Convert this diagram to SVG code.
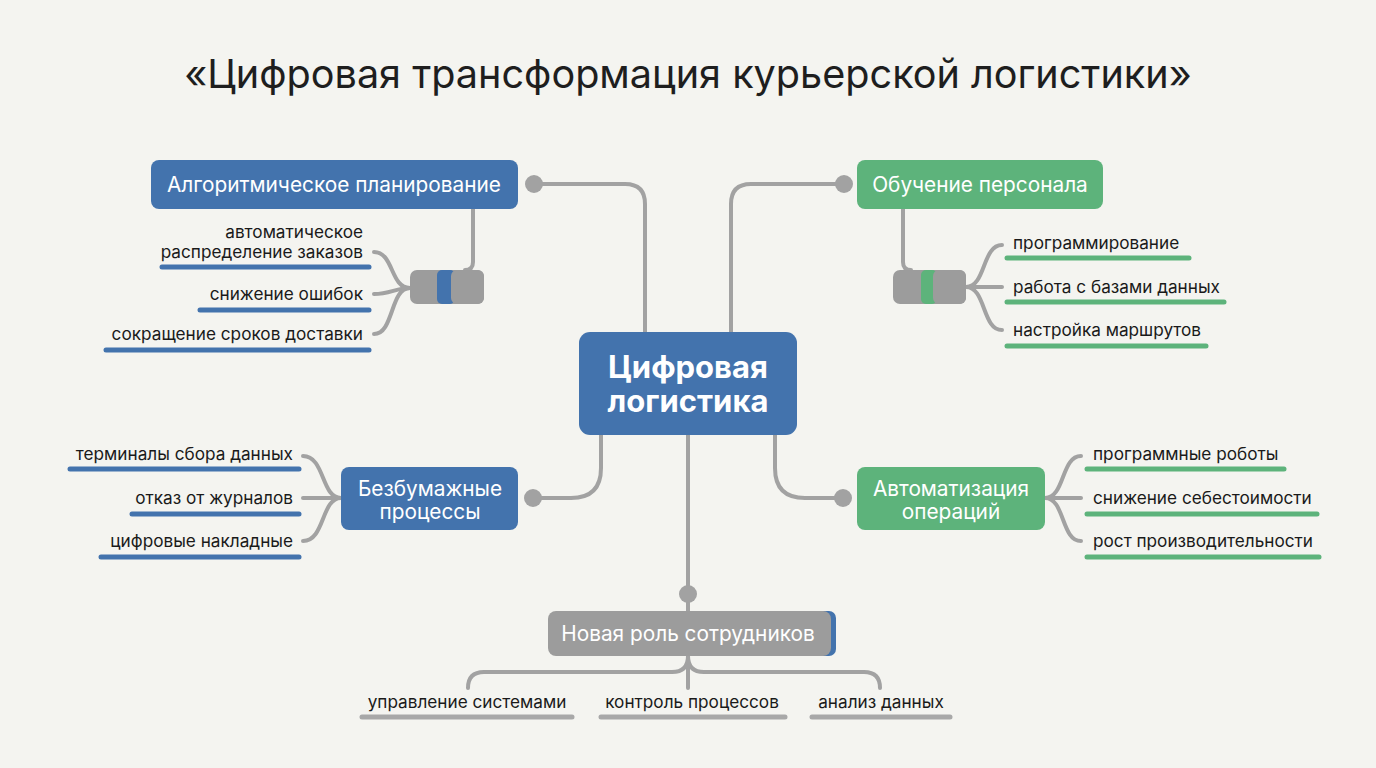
<svg xmlns="http://www.w3.org/2000/svg" width="1376" height="768" viewBox="0 0 1376 768">
<defs>
<style>
.bg{fill:#f4f4f0}
.title{font-family:Inter,"Noto Sans",sans-serif;font-size:39.6px;fill:#1e1e1e;text-anchor:middle}
.blue{fill:#4373ad}
.green{fill:#5db37b}
.gray{fill:#9c9c9c}
.nt{font-family:Inter,"Noto Sans",sans-serif;font-size:20.8px;fill:#ffffff;text-anchor:middle}
.ct{font-family:Inter,"Noto Sans",sans-serif;font-size:31px;font-weight:700;fill:#ffffff;text-anchor:middle}
.it{font-family:Inter,"Noto Sans",sans-serif;font-size:17.2px;fill:#1a1a1a}
.r{text-anchor:end}
.m{text-anchor:middle}
.con{fill:none;stroke:#a2a2a2;stroke-width:4;stroke-linecap:round}
.dot{fill:#a2a2a2}
.ub{stroke:#4373ad;stroke-width:5;stroke-linecap:round}
.ug{stroke:#5db37b;stroke-width:5;stroke-linecap:round}
.ux{stroke:#a8a8a8;stroke-width:5;stroke-linecap:round}
</style>
</defs>
<rect class="bg" x="0" y="0" width="1376" height="768"/>
<text class="title" x="688" y="88">«Цифровая трансформация курьерской логистики»</text>

<g id="connectors">
<path class="con" d="M645,332 V204 Q645,184 625,184 H534"/>
<path class="con" d="M731,332 V204 Q731,184 751,184 H844"/>
<path class="con" d="M601,435 V468 Q601,498 571,498 H533"/>
<path class="con" d="M775,435 V468 Q775,498 805,498 H843"/>
<path class="con" d="M688,435 V611"/>
<circle class="dot" cx="534" cy="184" r="9"/>
<circle class="dot" cx="844" cy="184" r="9"/>
<circle class="dot" cx="533" cy="498" r="9"/>
<circle class="dot" cx="843" cy="498" r="9"/>
<circle class="dot" cx="688" cy="594" r="9"/>
<path class="con" d="M473,209 V262 Q473,270 465,270"/>
<path class="con" d="M374,252 C394,252 390,288 410,288"/>
<path class="con" d="M374,294 C390,294 396,288 410,288"/>
<path class="con" d="M374,334 C394,334 390,288 410,288"/>
<path class="con" d="M903,209 V262 Q903,270 911,270"/>
<path class="con" d="M966,287 C986,287 982,245 1002,245"/>
<path class="con" d="M966,287 H1002"/>
<path class="con" d="M966,287 C986,287 982,330 1002,330"/>
<path class="con" d="M341,498 C321,498 325,456 303,456"/>
<path class="con" d="M341,498 H303"/>
<path class="con" d="M341,498 C321,498 325,541 303,541"/>
<path class="con" d="M1045,498 C1065,498 1061,456 1081,456"/>
<path class="con" d="M1045,498 H1081"/>
<path class="con" d="M1045,498 C1065,498 1061,541 1081,541"/>
<path class="con" d="M688,656 V688"/>
<path class="con" d="M688,656 Q688,672 672,672 H484 Q468,672 468,688"/>
<path class="con" d="M688,656 Q688,672 704,672 H864 Q880,672 880,688"/>
</g>

<g id="center">
<rect class="blue" x="579" y="332" width="218" height="103" rx="11"/>
<text class="ct" x="688" y="378">Цифровая</text>
<text class="ct" x="688" y="412">логистика</text>
</g>

<g id="algo">
<rect class="blue" x="151" y="160" width="367" height="49" rx="8"/>
<text class="nt" x="334" y="192">Алгоритмическое планирование</text>
<rect class="gray" x="410" y="270" width="74" height="34" rx="7"/>
<rect class="blue" x="437" y="270" width="18" height="34" rx="5"/>
<rect class="gray" x="451" y="270" width="33" height="34" rx="6"/>
<text class="it r" x="363" y="238">автоматическое</text>
<text class="it r" x="363" y="258">распределение заказов</text>
<line class="ub" x1="162" y1="267" x2="369" y2="267"/>
<text class="it r" x="363" y="300">снижение ошибок</text>
<line class="ub" x1="200" y1="310" x2="369" y2="310"/>
<text class="it r" x="363" y="340">сокращение сроков доставки</text>
<line class="ub" x1="106" y1="350" x2="369" y2="350"/>
</g>

<g id="training">
<rect class="green" x="857" y="160" width="246" height="49" rx="8"/>
<text class="nt" x="980" y="192">Обучение персонала</text>
<rect class="gray" x="893" y="270" width="73" height="34" rx="7"/>
<rect class="green" x="921" y="270" width="16" height="34" rx="5"/>
<rect class="gray" x="933" y="270" width="33" height="34" rx="6"/>
<text class="it" x="1013" y="249">программирование</text>
<line class="ug" x1="1007" y1="258" x2="1189" y2="258"/>
<text class="it" x="1013" y="293">работа с базами данных</text>
<line class="ug" x1="1007" y1="302" x2="1224" y2="302"/>
<text class="it" x="1013" y="336">настройка маршрутов</text>
<line class="ug" x1="1007" y1="346" x2="1206" y2="346"/>
</g>

<g id="paperless">
<rect class="blue" x="341" y="467" width="177" height="63" rx="8"/>
<text class="nt" x="430" y="496">Безбумажные</text>
<text class="nt" x="430" y="519">процессы</text>
<text class="it r" x="293" y="460">терминалы сбора данных</text>
<line class="ub" x1="70" y1="469" x2="299" y2="469"/>
<text class="it r" x="293" y="504">отказ от журналов</text>
<line class="ub" x1="132" y1="514" x2="299" y2="514"/>
<text class="it r" x="293" y="547">цифровые накладные</text>
<line class="ub" x1="101" y1="557" x2="299" y2="557"/>
</g>

<g id="automation">
<rect class="green" x="857" y="467" width="188" height="63" rx="8"/>
<text class="nt" x="951" y="496">Автоматизация</text>
<text class="nt" x="951" y="519">операций</text>
<text class="it" x="1093" y="460">программные роботы</text>
<line class="ug" x1="1087" y1="469" x2="1284" y2="469"/>
<text class="it" x="1093" y="504">снижение себестоимости</text>
<line class="ug" x1="1087" y1="514" x2="1317" y2="514"/>
<text class="it" x="1093" y="547">рост производительности</text>
<line class="ug" x1="1087" y1="557" x2="1319" y2="557"/>
</g>

<g id="newrole">
<rect class="blue" x="800" y="611" width="36" height="45" rx="7"/>
<rect class="gray" x="548" y="611" width="283" height="45" rx="8"/>
<text class="nt" x="688" y="641">Новая роль сотрудников</text>
<text class="it m" x="467" y="708">управление системами</text>
<line class="ux" x1="362" y1="717" x2="572" y2="717"/>
<text class="it m" x="692" y="708">контроль процессов</text>
<line class="ux" x1="601" y1="717" x2="785" y2="717"/>
<text class="it m" x="881" y="708">анализ данных</text>
<line class="ux" x1="812" y1="717" x2="950" y2="717"/>
</g>
</svg>
